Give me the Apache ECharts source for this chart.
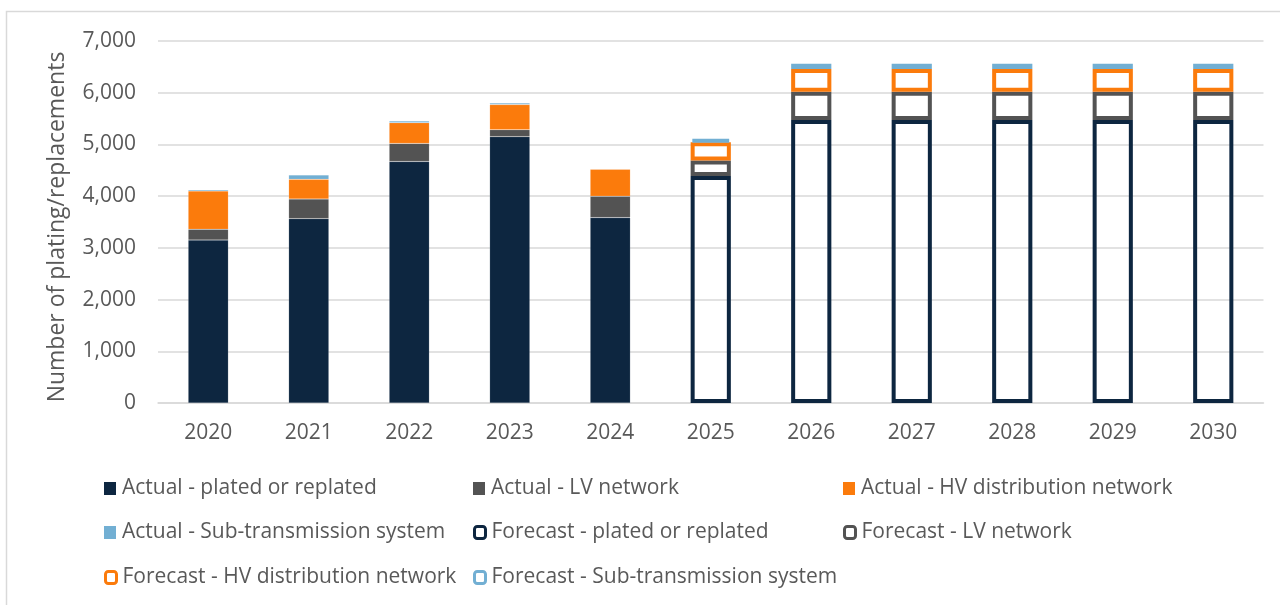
<!DOCTYPE html>
<html>
<head>
<meta charset="utf-8">
<script src="https://cdn.jsdelivr.net/npm/echarts@6/dist/echarts.min.js"></script>
<style>
html,body{margin:0;padding:0;background:#fff;}
#chart{width:1280px;height:605px;}
</style>
</head>
<body>
<div id="chart"></div>
<script>
const years = ['2020','2021','2022','2023','2024','2025','2026','2027','2028','2029','2030'];
const yTicks = [0, 1000, 2000, 3000, 4000, 5000, 6000, 7000];

// Actual (2020-2024)
const actualPlated = [3150, 3565, 4670, 5150, 3585, null, null, null, null, null, null];
const actualLV     = [ 210,  380,  350,  135,  415, null, null, null, null, null, null];
const actualHV     = [ 740,  380,  400,  485,  520, null, null, null, null, null, null];
const actualSub    = [  25,   85,   35,   30,   10, null, null, null, null, null, null];

// Forecast (2025-2030)
const forecastPlated = [null, null, null, null, null, 4390, 5470, 5470, 5470, 5470, 5470];
const forecastLV     = [null, null, null, null, null,  300,  550,  550,  550,  550,  550];
const forecastHV     = [null, null, null, null, null,  350,  440,  440,  440,  440,  440];
const forecastSub    = [null, null, null, null, null,   65,  100,  100,  100,  100,  100];

const seriesNames = [
  'Actual - plated or replated', 'Actual - LV network', 'Actual - HV distribution network',
  'Actual - Sub-transmission system', 'Forecast - plated or replated', 'Forecast - LV network',
  'Forecast - HV distribution network', 'Forecast - Sub-transmission system'
];
const seriesData = [actualPlated, actualLV, actualHV, actualSub, forecastPlated, forecastLV, forecastHV, forecastSub];
const colors = ['#0d2640', '#535353', '#fb7b0c', '#72afd3', '#0d2640', '#535353', '#fb7b0c', '#72afd3'];

const legendPos = [
  [104, 478], [473, 478], [843, 478],
  [104, 522], [473, 522], [843, 522],
  [104, 567], [473, 567]
];

const FONT = '"Open Sans", sans-serif';
const TXT = '#595959';

const series = seriesNames.map((name, i) => {
  const forecast = i >= 4;
  return {
    name: name,
    type: 'bar',
    stack: 'total',
    barWidth: '40%',
    data: seriesData[i].map(v => v === null ? '-' : v),
    itemStyle: forecast
      ? { color: 'rgba(255,255,255,0)', borderColor: colors[i], borderWidth: 4 }
      : { color: colors[i], borderColor: 'rgba(255,255,255,0.25)', borderWidth: 0.5 },
    emphasis: { disabled: true },
    animation: false
  };
});

const legends = seriesNames.map((name, i) => {
  const forecast = i >= 4;
  return {
    data: [name],
    left: legendPos[i][0],
    top: legendPos[i][1],
    icon: forecast ? 'roundRect' : 'rect',
    itemWidth: forecast ? 11 : 12,
    itemHeight: forecast ? 12 : 13,
    itemStyle: forecast
      ? { color: '#ffffff', borderColor: colors[i], borderWidth: 3 }
      : { color: colors[i], borderWidth: 0 },
    textStyle: { color: TXT, fontSize: 21, fontFamily: FONT, padding: [0, 0, 0, 1] },
    selectedMode: false,
    padding: 0
  };
});

const chart = echarts.init(document.getElementById('chart'), null, { renderer: 'canvas' });
chart.setOption({
  animation: false,
  backgroundColor: '#ffffff',
  grid: { left: 158, right: 16.5, top: 41, bottom: 202, containLabel: false },
  graphic: [{
    type: 'rect',
    shape: { x: 6.5, y: 11.5, width: 1400, height: 800 },
    style: { fill: 'none', stroke: '#d9d9d9', lineWidth: 1.5 },
    silent: true, z: -1
  }],
  legend: legends,
  xAxis: {
    type: 'category',
    data: years,
    axisLine: { show: true, lineStyle: { color: '#d9d9d9', width: 1.5 } },
    axisTick: { show: false },
    axisLabel: { color: TXT, fontSize: 21, fontFamily: FONT, margin: 20 }
  },
  yAxis: {
    type: 'value',
    min: yTicks[0],
    max: yTicks[yTicks.length - 1],
    interval: 1000,
    name: 'Number of plating/replacements',
    nameLocation: 'middle',
    nameRotate: 90,
    nameGap: 89,
    nameTextStyle: { color: TXT, fontSize: 23, fontFamily: FONT, padding: [0, 10, 0, 0] },
    axisLine: { show: false },
    axisTick: { show: false },
    splitLine: { lineStyle: { color: '#d9d9d9', width: 1.5 } },
    axisLabel: {
      color: TXT, fontSize: 21, fontFamily: FONT, margin: 22,
      formatter: v => v.toLocaleString('en-US')
    }
  },
  series: series
});
</script>
</body>
</html>
